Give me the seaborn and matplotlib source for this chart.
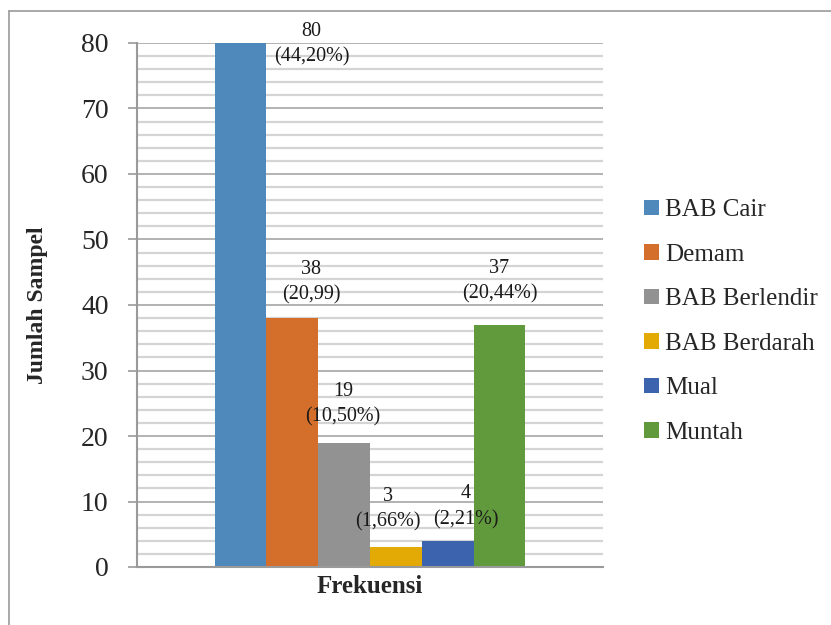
import matplotlib
matplotlib.use('Agg')
import matplotlib.pyplot as plt
from matplotlib.lines import Line2D
from matplotlib.ticker import MultipleLocator
import seaborn as sns
import pandas as pd

# data
kategori = ['Frekuensi']
gejala = ['BAB Cair', 'Demam', 'BAB Berlendir', 'BAB Berdarah', 'Mual', 'Muntah']
jumlah = [80, 38, 19, 3, 4, 37]
label_teks = ['80\n(44,20%)', '38\n(20,99)', '19\n(10,50%)', '3\n(1,66%)',
              '4\n(2,21%)', '37\n(20,44%)']
warna = ['#4F88BB', '#D46E2B', '#929292', '#E3A904', '#3C64AE', '#619A3D']

df = pd.DataFrame({'kategori': kategori * len(gejala), 'gejala': gejala, 'jumlah': jumlah})

sns.set_style('white')
plt.rcParams['font.family'] = ['Liberation Serif', 'DejaVu Serif']

fig = plt.figure(figsize=(8.31, 6.25), dpi=100)
ax = fig.add_axes([0.1649, 0.0928, 0.5608, 0.8384])

sns.barplot(data=df, x='kategori', y='jumlah', hue='gejala', hue_order=gejala,
            palette=warna, saturation=1, width=0.667, linewidth=0, ax=ax, legend=True)

ax.set_ylim(0, 80)
ax.set_xlim(-0.5, 0.5)
ax.yaxis.set_major_locator(MultipleLocator(10))
ax.yaxis.set_minor_locator(MultipleLocator(2))
ax.grid(axis='y', which='minor', color='#d4d4d4', linewidth=1.6)
ax.grid(axis='y', which='major', color='#a6a6a6', linewidth=1.2)
ax.set_axisbelow(True)

for side in ['top', 'right']:
    ax.spines[side].set_visible(False)
for side in ['left', 'bottom']:
    ax.spines[side].set_color('#9a9a9a')
    ax.spines[side].set_linewidth(1.5)

ax.tick_params(axis='y', which='major', left=True, length=6.5, width=1.2,
               color='#9a9a9a', pad=14, labelsize=20)
ax.tick_params(axis='y', which='minor', left=False)
ax.tick_params(axis='x', length=0, pad=6)
for t in ax.get_xticklabels():
    t.set_fontsize(18)
    t.set_fontweight('bold')

ax.set_xlabel('')
ax.set_ylabel('Jumlah Sampel', fontsize=17, fontweight='bold')
ax.yaxis.set_label_coords(-0.19, 0.5)

# data labels, offsets in pixels from each bar top
geser = [(71, -1), (19, 36), (-1, 38), (-8, 38), (18, 34), (0, 43)]
for cont, teks, (dx, dy) in zip(ax.containers, label_teks, geser):
    bar = cont[0]
    ax.annotate(teks, (bar.get_x() + bar.get_width() / 2, bar.get_height()),
                xytext=(dx, dy), textcoords='offset pixels',
                ha='center', va='center', fontsize=14.5, linespacing=1.45,
                color='#1a1a1a', annotation_clip=False)

sns.move_legend(ax, 'center left', bbox_to_anchor=(1.088, 0.4685), frameon=False,
                title=None, fontsize=18, handlelength=0.6, handleheight=0.6,
                handletextpad=0.25, labelspacing=0.9, borderpad=0, borderaxespad=0)

# outer chart border
fig.add_artist(Line2D([9 / 831, 1], [1 - 11 / 625, 1 - 11 / 625],
                      transform=fig.transFigure, color='#9a9a9a', linewidth=1.2))
fig.add_artist(Line2D([9 / 831, 9 / 831], [0, 1 - 11 / 625],
                      transform=fig.transFigure, color='#9a9a9a', linewidth=1.2))

fig.savefig('out.png', dpi=100)
